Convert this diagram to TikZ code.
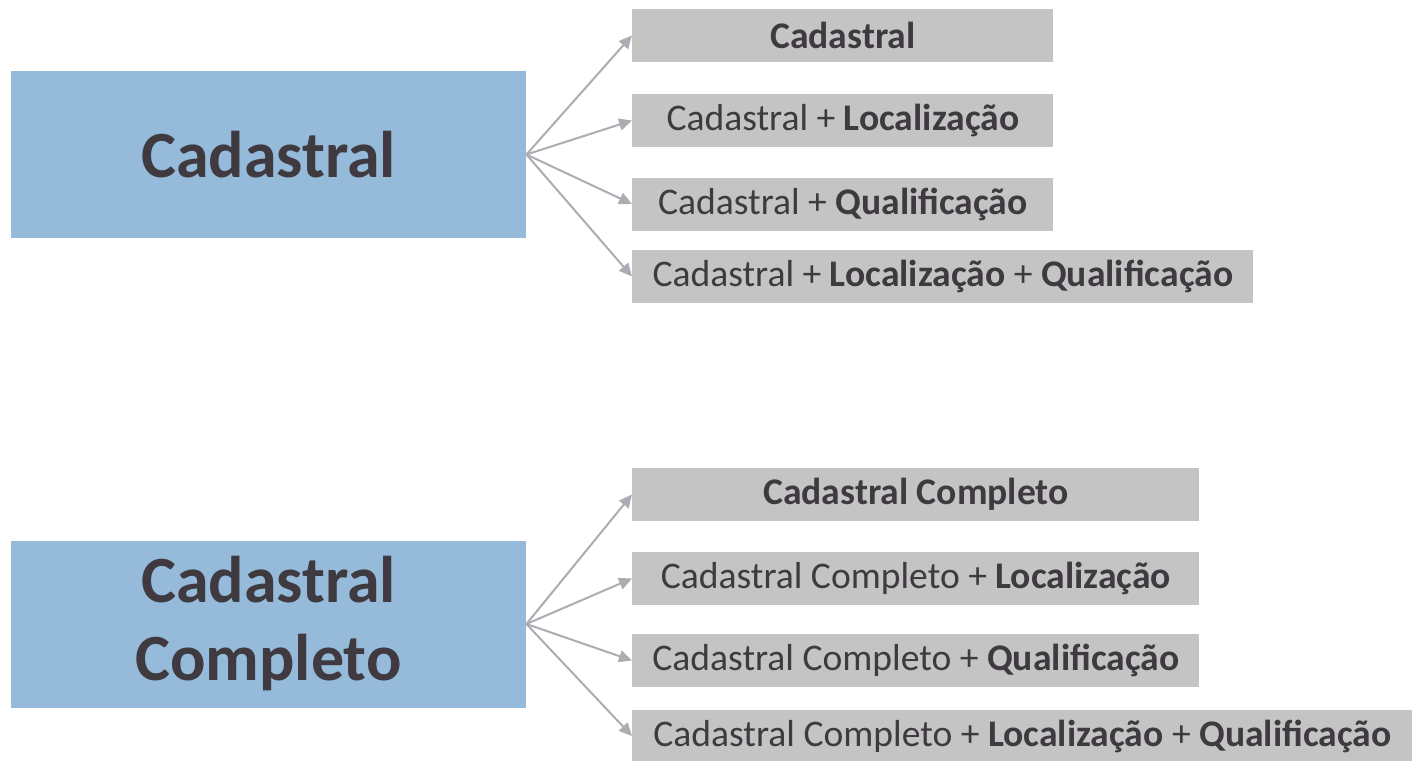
\documentclass[tikz,border=0pt]{standalone}
\usepackage{fontspec}
\setmainfont{Carlito}
\usetikzlibrary{arrows.meta, positioning}
\definecolor{boxblue}{RGB}{150,186,218}
\definecolor{boxgrey}{RGB}{196,196,196}
\definecolor{textdark}{RGB}{62,58,64}
\definecolor{arrowgrey}{RGB}{172,172,178}

\begin{document}
\begin{tikzpicture}[x=0.5pt, y=-0.5pt, -{Triangle[length=6.5pt, width=6pt]},
    main/.style={rectangle, fill=boxblue, inner sep=0pt, minimum width=257.5pt, minimum height=83.5pt,
        align=center, text=textdark, font=\fontsize{33}{39}\selectfont\bfseries},
    opt/.style={rectangle, fill=boxgrey, inner sep=0pt, minimum height=26.5pt, anchor=west,
        align=center, text=textdark, font=\fontsize{18.8}{22}\selectfont},
    link/.style={draw=arrowgrey, line width=1pt}]
    \useasboundingbox (0,0) rectangle (1412,760);
    % left side
    \node[main] (C) at (268.5,154.5) {Cadastral};
    \node[main] (CC) at (268.5,624) {Cadastral\\Completo};
    % options of Cadastral
    \node[opt, minimum width=210.5pt] (C1) at (632,35.5) {\textbf{Cadastral}};
    \node[opt, minimum width=210.5pt] (C2) at (632,120.5) {Cadastral + \textbf{Localização}};
    \node[opt, minimum width=210.5pt] (C3) at (632,204) {Cadastral + \textbf{Qualificação}};
    \node[opt, minimum width=310.5pt] (C4) at (632,276.5) {Cadastral + \textbf{Localização} + \textbf{Qualificação}};
    % options of Cadastral Completo
    \node[opt, minimum width=283.5pt] (CC1) at (632,494.5) {\textbf{Cadastral Completo}};
    \node[opt, minimum width=283.5pt] (CC2) at (632,578.5) {Cadastral Completo + \textbf{Localização}};
    \node[opt, minimum width=283.5pt] (CC3) at (632,660.5) {Cadastral Completo + \textbf{Qualificação}};
    \node[opt, minimum width=390pt] (CC4) at (632,736) {Cadastral Completo + \textbf{Localização} + \textbf{Qualificação}};

    \foreach \n in {C1,C2,C3,C4}
        \draw[link] (C.east) -- (\n.west);
    \foreach \n in {CC1,CC2,CC3,CC4}
        \draw[link] (CC.east) -- (\n.west);
\end{tikzpicture}
\end{document}
